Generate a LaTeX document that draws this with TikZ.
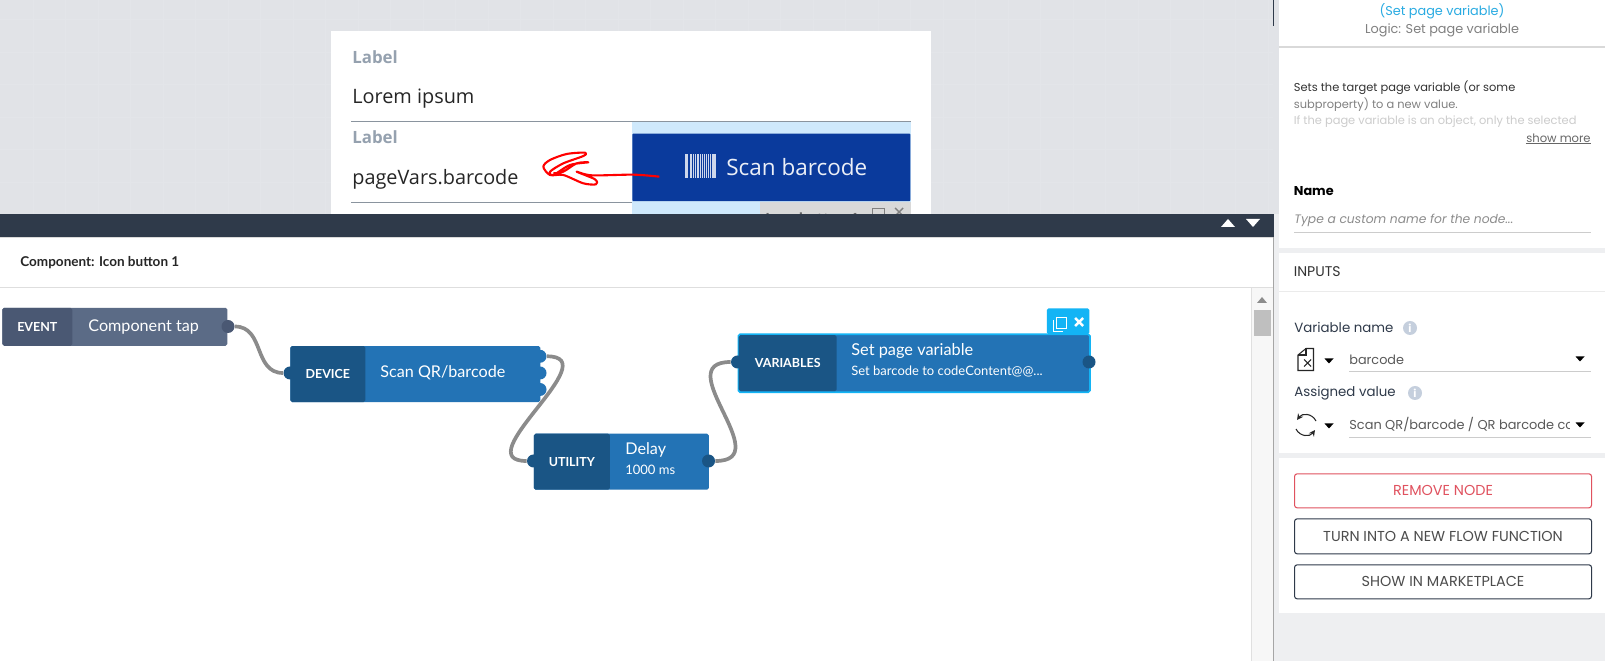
\documentclass[tikz,border=0pt]{standalone}
\usepackage{fontspec}
\usetikzlibrary{arrows.meta}
\newfontfamily\cardfont{Open Sans}
\newfontfamily\flowfont{Lato}
\newfontfamily\panelfont{Poppins}
\def\px{0.02cm}
\definecolor{canvasgray}{HTML}{E1E3E7}
\definecolor{canvasgrid}{HTML}{E3E5E9}
\definecolor{panelgray}{HTML}{EEEFF1}
\definecolor{barnavy}{HTML}{2F3A4A}
\definecolor{eventdark}{HTML}{4A5873}
\definecolor{eventlight}{HTML}{5B6B86}
\definecolor{nodedark}{HTML}{1A5585}
\definecolor{nodelight}{HTML}{2373B5}
\definecolor{picked}{HTML}{13B4F5}
\definecolor{wiregray}{HTML}{8B8B8B}
\definecolor{labelgray}{HTML}{95A1AF}
\definecolor{btnblue}{HTML}{0A3A9C}
\definecolor{btnhalo}{HTML}{CFE9FC}
\definecolor{rulegray}{HTML}{8A949E}
\definecolor{removered}{HTML}{E0525F}
\definecolor{linkblue}{HTML}{29ABE2}
\definecolor{infoblue}{HTML}{C5CFDD}
\tikzset{
    txt/.style={inner sep=0pt,anchor=west},
    cardlabel/.style={txt,text=labelgray,font=\cardfont\bfseries\fontsize{9.6}{12}\selectfont},
    cardvalue/.style={txt,text=black!85,font=\cardfont\fontsize{11.3}{13}\selectfont},
    flowbox/.style={rectangle,rounded corners=1pt,anchor=north west,inner sep=0pt},
    flowtag/.style={flowbox,anchor=west,text=white,font=\flowfont\bfseries\fontsize{7.1}{9}\selectfont},
    flowtitle/.style={txt,text=white,font=\flowfont\fontsize{9.2}{11}\selectfont},
    flowsub/.style={txt,text=white,font=\flowfont\fontsize{7.4}{9}\selectfont},
    port/.style={circle,inner sep=0pt,minimum size=13*\px},
    wire/.style={draw=wiregray,line width=2.1pt},
    paneltxt/.style={txt,text=black!80,font=\panelfont\fontsize{7.3}{9}\selectfont},
    panelhead/.style={txt,text=barnavy,font=\panelfont\fontsize{7.6}{9}\selectfont},
    paneline/.style={draw=black!20,line width=0.5pt},
    panelbtn/.style={rectangle,draw,rounded corners=1.5pt,line width=0.6pt,anchor=north west,
        minimum width=297*\px,minimum height=34*\px,font=\panelfont\fontsize{8.2}{10}\selectfont},
    infodot/.style={circle,fill=infoblue,inner sep=0pt,minimum size=14*\px,text=white,
        font=\panelfont\bfseries\fontsize{6}{6}\selectfont},
    icon/.style={draw=black!85,line width=0.6pt}
}
\begin{document}
\begin{tikzpicture}[x=0.02cm,y=-0.02cm]
    \useasboundingbox (0,0) rectangle (1605,661);
    \fill[canvasgray] (0,0) rectangle (1279,214);
    \foreach \gy in {0,...,6}
      \draw[canvasgrid,line width=0.4pt] (0,{19.5+32.5*\gy}) -- (1273,{19.5+32.5*\gy});
    \foreach \gx in {0,...,38}
      \draw[canvasgrid,line width=0.4pt] ({33+32.5*\gx},0) -- ({33+32.5*\gx},214);
    \fill[panelgray] (1274,214) rectangle (1605,661);
    \fill[white] (0,237) rectangle (1273,661);
    \fill[white] (331,31) rectangle (931,214);

    \node[cardlabel] (labelone) at (352,57) {Label};
    \node[cardvalue] (loremtxt) at (352,98.5) {Lorem ipsum};
    \draw[rulegray] (351,121.3) -- (911,121.3);
    \fill[btnhalo] (631.6,121.8) rectangle (911,214);
    \node[cardlabel] (labeltwo) at (352,137.5) {Label};
    \node[cardvalue] (barcodetxt) at (352,179) {pageVars.barcode};
    \draw[rulegray] (351,202) -- (631.6,202);
    \node[rectangle,fill=btnblue,rounded corners=0.5pt,anchor=north west,inner sep=0pt,
        minimum width=278*\px,minimum height=67.5*\px] (scanbtn) at (632,133.3) {};
    \foreach \bx/\bw in {685/3,689.5/2,693/1,695/1,697/1.5,699.5/1,701.5/1,703.5/1,705.5/1,707.5/1.5,710/1,712/4}
      \fill[white!80!btnblue] (\bx,154) rectangle ({\bx+\bw},177.7);
    \node[txt,text=white!92!btnblue,font=\cardfont\fontsize{12.8}{15}\selectfont] (scantxt) at (726,167) {Scan barcode};
    \begin{scope}
      \clip (760,202) rectangle (911,214);
      \fill[black!15] (760,202) rectangle (911,214);
      \node[txt,text=black!60,font=\cardfont\bfseries\fontsize{8}{10}\selectfont] (tabtxt) at (765,218) {Icon button 1};
      \draw[black!50] (872,208) rectangle (884,220);
      \draw[black!50,line width=0.8pt] (895,208) -- (903,216) (903,208) -- (895,216);
    \end{scope}
    \begin{scope}[shift={(520,130)},xscale=1/3,yscale=1/3]
      \draw[red,line width=1.2pt,line join=round] plot[smooth] coordinates {(418,140) (340,134) (215,136) (170,125)
        (225,148) (228,163) (190,160) (130,135) (90,135) (70,110) (90,90) (140,72) (195,68) (190,78) (130,100)
        (90,125) (100,135) (150,105) (205,97) (170,100) (130,125) (100,130)};
    \end{scope}

    \fill[barnavy] (0,214) rectangle (1273.5,237);
    \draw[black!15] (0,237.5) -- (1273,237.5);
    \fill[white] (1221,227) -- (1235,227) -- (1228,219) -- cycle;
    \fill[white] (1246,219) -- (1260,219) -- (1253,227) -- cycle;
    \node[txt,text=black!85,font=\flowfont\bfseries\fontsize{7.7}{9}\selectfont] (headtxt) at (20,263) {Component: Icon button 1};
    \draw[black!13,line width=0.8pt] (0,287.7) -- (1273,287.7);
    \fill[black!3] (1251,288) rectangle (1273,661);
    \draw[black!12] (1251,288) -- (1251,661);
    \fill[black!45] (1257,303) -- (1267,303) -- (1262,297) -- cycle;
    \fill[black!25] (1254,310) rectangle (1271,336);
    \draw[black!35,line width=0.7pt] (1273.5,237) -- (1273.5,661);
    \draw[barnavy,line width=0.7pt] (1273.5,0) -- (1273.5,26);

    \node[flowbox,fill=eventlight,minimum width=225*\px,minimum height=38*\px] (tapbox) at (2,307.5) {};
    \node[flowtag,fill=eventdark,minimum width=70*\px,minimum height=38*\px] (taptag) at (tapbox.west) {EVENT};
    \node[flowtitle] (taptxt) at (88,327) {Component tap};
    \node[port,fill=eventdark] (tapout) at (228,326.5) {};

    \node[flowbox,fill=nodelight,minimum width=250*\px,minimum height=56*\px] (scanbox) at (290,345.7) {};
    \node[flowtag,fill=nodedark,minimum width=75*\px,minimum height=56*\px] (scantag) at (scanbox.west) {DEVICE};
    \node[flowtitle] (scantitle) at (380,373) {Scan QR/barcode};
    \node[port,fill=nodedark] (scanin) at (290,373) {};
    \node[port,fill=nodelight] (scanone) at (540,356.3) {};
    \node[port,fill=nodelight] (scantwo) at (540,373) {};
    \node[port,fill=nodelight] (scanthree) at (540,389.5) {};

    \node[flowbox,fill=nodelight,minimum width=175*\px,minimum height=56*\px] (delaybox) at (533.5,433.3) {};
    \node[flowtag,fill=nodedark,minimum width=76*\px,minimum height=56*\px] (delaytag) at (delaybox.west) {UTILITY};
    \node[flowtitle] (delaytxt) at (625,450) {Delay};
    \node[flowsub] (delaysub) at (625,470) {1000 ms};
    \node[port,fill=nodedark] (delayin) at (533.5,461) {};
    \node[port,fill=nodedark] (delayout) at (708.5,461) {};

    \node[flowbox,fill=picked,minimum width=42.5*\px,minimum height=26*\px] (setpick) at (1046.5,308) {};
    \draw[white,line width=0.5pt] (1056,317) rectangle (1066,328) (1053,320) -- (1053,331) -- (1063,331);
    \draw[white,line width=1.4pt] (1075,318) -- (1083,326) (1083,318) -- (1075,326);
    \node[flowbox,fill=nodelight,draw=picked,line width=1pt,minimum width=351.5*\px,minimum height=58*\px] (setbox) at (737.5,333.3) {};
    \node[flowtag,fill=nodedark,minimum width=98*\px,minimum height=56*\px] (settag) at ([xshift=0.5pt]setbox.west) {VARIABLES};
    \node[flowtitle,font=\flowfont\fontsize{9.3}{11}\selectfont] (settitle) at (851,351) {Set page variable};
    \node[flowsub] (setsub) at (851,371) {Set barcode to codeContent@@...};
    \node[port,fill=nodedark] (setin) at (737.5,362) {};
    \node[port,fill=nodedark] (setout) at (1089,362) {};

    \draw[wire] (tapout.east) .. controls +(30,0) and +(-30,0) .. (scanin.west);
    \draw[wire] (scanone.east) .. controls +(62,0) and +(-62,0) .. (delayin.west);
    \draw[wire] (delayout.east) .. controls +(63,0) and +(-63,0) .. (setin.west);

    \fill[white] (1279,0) rectangle (1605,47);
    \draw[black!15,line width=0.7pt] (1279,47) -- (1605,47);
    \fill[white] (1279,52.7) rectangle (1605,161);
    \fill[white] (1279,165.7) rectangle (1605,248);
    \fill[white] (1279,252.7) rectangle (1605,453);
    \fill[white] (1279,457.7) rectangle (1605,613);
    \draw[black!8] (1279,291) -- (1605,291);

    \node[paneltxt,anchor=center,text=linkblue] (titletxt) at (1442,11) {(Set page variable)};
    \node[paneltxt,anchor=center,text=black!50] (logictxt) at (1442,30.5) {Logic: Set page variable};
    \node[paneltxt,font=\panelfont\fontsize{6.5}{8}\selectfont] (descone) at (1293.5,87.5) {Sets the target page variable (or some};
    \node[paneltxt,text=black!50,font=\panelfont\fontsize{6.5}{8}\selectfont] (desctwo) at (1293.5,104.5) {subproperty) to a new value.};
    \node[paneltxt,text=black!20,font=\panelfont\fontsize{6.5}{8}\selectfont] (descthree) at (1293.5,121.5) {If the page variable is an object, only the selected};
    \node[paneltxt,anchor=east,text=black!60,font=\panelfont\fontsize{6.6}{8}\selectfont] (moretxt) at (1591,138.5) {show more};
    \draw[black!60,line width=0.4pt] (moretxt.south west) -- (moretxt.south east);
    \node[panelhead,text=black,font=\panelfont\bfseries\fontsize{7.3}{9}\selectfont] (nametxt) at (1293.5,191) {Name};
    \node[paneltxt,text=black!45,font=\panelfont\itshape\fontsize{7}{9}\selectfont] (nameholder) at (1294,220.5) {Type a custom name for the node...};
    \draw[paneline] (1294,232) -- (1591,232);
    \node[paneltxt,font=\panelfont\fontsize{8}{10}\selectfont] (inputstxt) at (1293.5,272) {INPUTS};

    \node[panelhead] (varname) at (1294,327) {Variable name};
    \node[infodot] (varinfo) at (1410,328) {i};
    \draw[icon] (1298,355) -- (1306,348.5) -- (1313.5,348.5) -- (1313.5,370.5) -- (1298,370.5) -- cycle;
    \draw[icon] (1306,348.5) -- (1306,355) -- (1298,355);
    \draw[icon] (1304,359.5) -- (1311,366.5) (1311,359.5) -- (1304,366.5);
    \node[paneltxt,text=black!65] (varvalue) at (1349,360) {barcode};
    \draw[paneline] (1349,371.5) -- (1591,371.5);
    \node[panelhead] (assignname) at (1294,393) {Assigned value};
    \node[infodot] (assigninfo) at (1415,393) {i};
    \draw[icon,-{Stealth[open,length=3.5pt,width=3.5pt]}] (1316,421) .. controls (1312,413) and (1302,413) .. (1297,420);
    \draw[icon,-{Stealth[open,length=3.5pt,width=3.5pt]}] (1296,429) .. controls (1300,437) and (1310,437) .. (1315,430);
    \begin{scope}
      \clip (1349,414) rectangle (1569,436);
      \node[paneltxt,text=black!65,font=\panelfont\fontsize{7.35}{9}\selectfont] (assignvalue) at (1349,425) {Scan QR/barcode / QR barcode co};
    \end{scope}
    \draw[paneline] (1349,437) -- (1591,437);
    \foreach \cx/\cy in {1329/361,1580/359,1329/426,1580/425}
      \fill[black] (\cx-4.5,\cy-2.5) -- (\cx+4.5,\cy-2.5) -- (\cx,\cy+2.5) -- cycle;

    \node[panelbtn,draw=removered,text=removered] (removebtn) at (1294,473.3) {REMOVE NODE};
    \node[panelbtn,draw=barnavy,text=black!70,minimum height=35*\px] (turnbtn) at (1294,518.3) {TURN INTO A NEW FLOW FUNCTION};
    \node[panelbtn,draw=barnavy,text=black!70] (showbtn) at (1294,564.3) {SHOW IN MARKETPLACE};
\end{tikzpicture}
\end{document}
